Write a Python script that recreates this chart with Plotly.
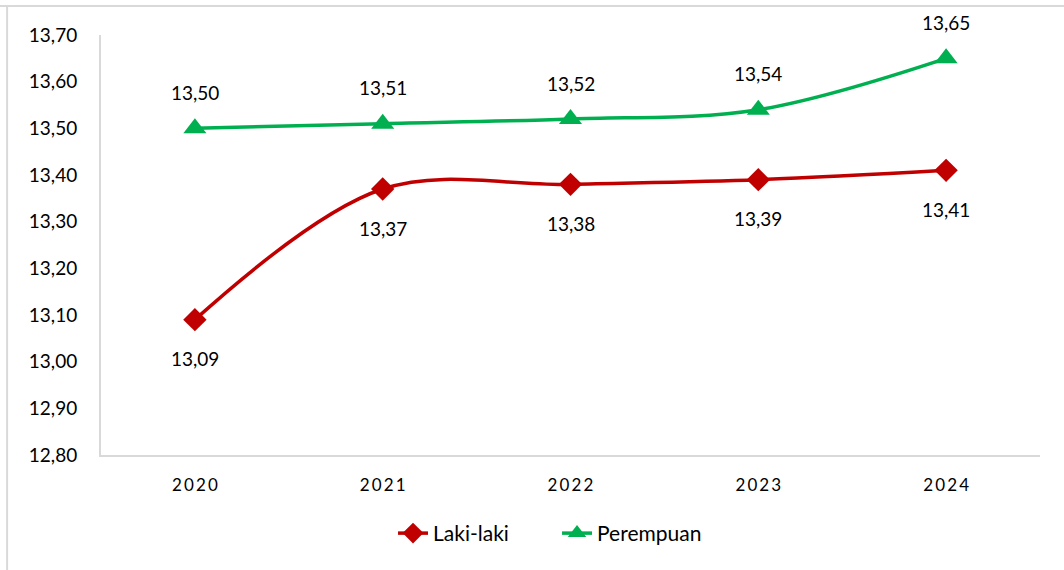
import plotly.graph_objects as go

years = ["2020", "2021", "2022", "2023", "2024"]
laki = [13.09, 13.37, 13.38, 13.39, 13.41]
perempuan = [13.50, 13.51, 13.52, 13.54, 13.65]
y_ticks = [12.8, 12.9, 13.0, 13.1, 13.2, 13.3, 13.4, 13.5, 13.6, 13.7]

RED = "#C00000"
GREEN = "#00B050"
FONT = "Lato, Noto Sans, sans-serif"

tick_text = ["\u2009".join(list(y)) for y in years]

fig = go.Figure()
fig.add_trace(go.Scatter(
    x=years, y=laki, name="Laki-laki", mode="lines+markers",
    line=dict(color=RED, width=3.5, shape="spline", smoothing=1),
    marker=dict(symbol="diamond", size=18, color=RED),
    cliponaxis=False,
))
fig.add_trace(go.Scatter(
    x=years, y=perempuan, name="Perempuan", mode="lines+markers",
    line=dict(color=GREEN, width=3.5, shape="spline", smoothing=1),
    marker=dict(symbol="triangle-up", size=20, color=GREEN),
    cliponaxis=False,
))

# category axes: annotations are positioned by category index
for i, yv in enumerate(laki):
    fig.add_annotation(x=i, y=yv, text=f"{yv:.2f}".replace(".", ","), showarrow=False,
                       yshift=-39, font=dict(size=19, family=FONT, color="#000000"))
for i, yv in enumerate(perempuan):
    fig.add_annotation(x=i, y=yv, text=f"{yv:.2f}".replace(".", ","), showarrow=False,
                       yshift=36, font=dict(size=19, family=FONT, color="#000000"))

# faint frame lines from the screenshot border
fig.add_shape(type="line", xref="paper", yref="paper", x0=-0.11, x1=1.03, y0=1.069, y1=1.069,
              line=dict(color="#D9D9D9", width=2))
fig.add_shape(type="line", xref="paper", yref="paper", x0=-0.1, x1=-0.1, y0=-0.28, y1=1.069,
              line=dict(color="#D9D9D9", width=2))

fig.update_layout(
    width=1064, height=570,
    margin=dict(l=101, r=24, t=35, b=115),
    paper_bgcolor="white", plot_bgcolor="white",
    separators=",.",
    font=dict(family=FONT, size=19, color="#000000"),
    showlegend=True,
    legend=dict(orientation="h", x=0.311, xanchor="left", y=-0.138, yanchor="top",
                font=dict(size=21, family=FONT), entrywidth=119, entrywidthmode="pixels"),
)
fig.update_xaxes(
    type="category", tickmode="array", tickvals=years, ticktext=tick_text,
    range=[-0.5, 4.5], showgrid=False, showline=True, linecolor="#D9D9D9", linewidth=2,
    ticks="outside", ticklen=14, tickcolor="rgba(0,0,0,0)",
    tickfont=dict(size=17, family=FONT), zeroline=False,
)
fig.update_yaxes(
    range=[12.8, 13.7], tickmode="array", tickvals=y_ticks, tickformat=".2f",
    showgrid=False, showline=True, linecolor="#D9D9D9", linewidth=2,
    ticks="outside", ticklen=18, tickcolor="rgba(0,0,0,0)",
    tickfont=dict(size=19, family=FONT), zeroline=False,
)

fig.write_html("out.html", config={"displayModeBar": False},
               post_script="document.body.style.margin='0';")
